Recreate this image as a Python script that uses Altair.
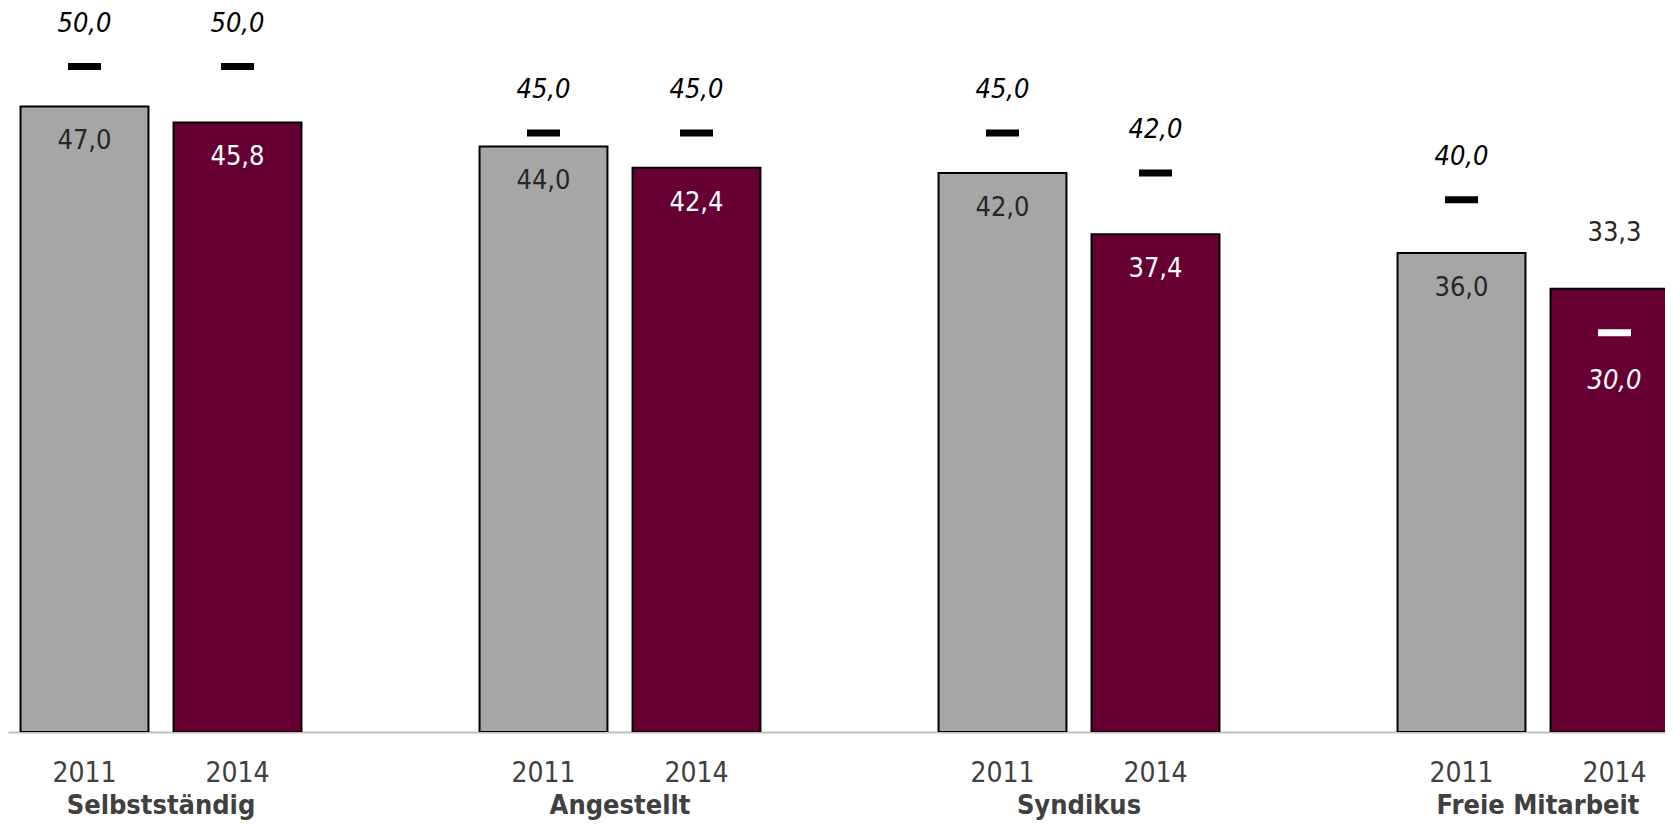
import altair as alt
import pandas as pd

groups = ["Selbstständig", "Angestellt", "Syndikus", "Freie Mitarbeit"]
years = ["2011", "2014"]
values_2011 = [47.0, 44.0, 42.0, 36.0]
values_2014 = [45.8, 42.4, 37.4, 33.3]
targets_2011 = [50.0, 45.0, 45.0, 40.0]
targets_2014 = [50.0, 45.0, 42.0, 30.0]

bar_colors = ["#A6A6A6", "#660033"]
FONT = "Liberation Sans Narrow, DejaVu Sans Condensed, sans-serif"
FS = 27

def de(v):
    return f"{v:.1f}".replace(".", ",")

rows = []
series = [(years[0], values_2011, targets_2011), (years[1], values_2014, targets_2014)]
for gi, g in enumerate(groups):
    for yi, (yr, vals, tg) in enumerate(series):
        v, t = vals[gi], tg[gi]
        rows.append(dict(group=g, year=yr, yi=yi, slot=gi * 3 + yi, value=v, target=t,
                         vlabel=de(v), tlabel=de(t), inside=bool(t < v)))
df = pd.DataFrame(rows)
gdf = pd.DataFrame({"group": groups, "slot": [gi * 3 + 0.5 for gi in range(len(groups))]})

W, H = 1657, 724
STEP = 153
xs = alt.Scale(domain=[-0.5, -0.5 + W / STEP], nice=False, zero=False)
ys = alt.Scale(domain=[0, 54.4], nice=False)

base = alt.Chart(df)

bars = base.transform_calculate(
    x0="datum.slot - 0.418", x1="datum.slot + 0.418"
).mark_bar(stroke="black", strokeWidth=2, clip=True, opacity=1).encode(
    x=alt.X("x0:Q", scale=xs, axis=alt.Axis(title=None, labels=False, ticks=False, grid=False,
                                           domainColor="#BFBFBF", domainWidth=2)),
    x2="x1:Q",
    y=alt.Y("value:Q", scale=ys, axis=None),
    y2=alt.datum(0),
    color=alt.condition(f"datum.year == '{years[0]}'", alt.value(bar_colors[0]), alt.value(bar_colors[1])),
)

X = alt.X("slot:Q", scale=xs)
Y = alt.Y("value:Q", scale=ys)
YT = alt.Y("target:Q", scale=ys)

val_in = base.transform_filter("!datum.inside").mark_text(
    font=FONT, fontSize=FS, baseline="alphabetic", dy=43
).encode(x=X, y=Y, text="vlabel:N",
         color=alt.condition(f"datum.year == '{years[0]}'", alt.value("#262626"), alt.value("#FFFFFF")))
val_out = base.transform_filter("datum.inside").mark_text(
    font=FONT, fontSize=FS, baseline="alphabetic", dy=-48, color="#262626"
).encode(x=X, y=Y, text="vlabel:N")

ticks = base.mark_tick(orient="horizontal", size=33, thickness=7, opacity=1).encode(
    x=X, y=YT,
    color=alt.condition("datum.inside", alt.value("white"), alt.value("black")),
)

tgt_above = base.transform_filter("!datum.inside").mark_text(
    font=FONT, fontSize=FS, fontStyle="italic", baseline="alphabetic", dy=-35, color="black"
).encode(x=X, y=YT, text="tlabel:N")
tgt_below = base.transform_filter("datum.inside").mark_text(
    font=FONT, fontSize=FS, fontStyle="italic", baseline="alphabetic", dy=56, color="white"
).encode(x=X, y=YT, text="tlabel:N")

year_lbl = base.mark_text(font=FONT, fontSize=FS + 1, baseline="alphabetic", color="#404040").encode(
    x=X, y=alt.value(H + 50), text="year:N")
group_lbl = alt.Chart(gdf).mark_text(font=FONT, fontSize=FS, fontWeight="bold", baseline="alphabetic",
                                     color="#404040").encode(
    x=alt.X("slot:Q", scale=xs), y=alt.value(H + 82), text="group:N")

chart = alt.layer(bars, val_in, val_out, ticks, tgt_above, tgt_below, year_lbl, group_lbl).properties(
    width=W, height=H,
    autosize=alt.AutoSizeParams(type="none"),
    padding={"left": 0, "top": 0, "right": 0, "bottom": 89},
).configure_view(stroke=None)

chart.save("out.html", embed_options={"renderer": "svg", "actions": False})
